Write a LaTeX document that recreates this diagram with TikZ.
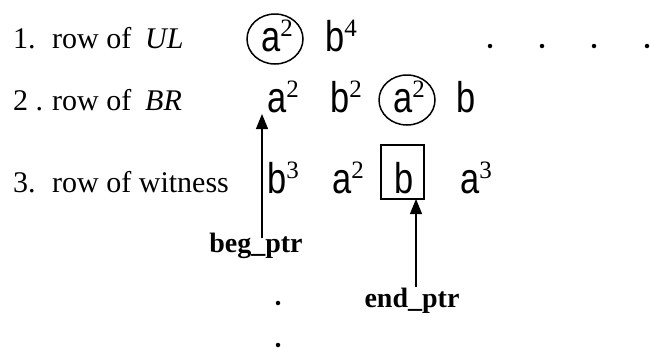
\documentclass[tikz,border=0pt]{standalone}
\usepackage{fontspec}
\setmainfont{Liberation Serif}
\newfontfamily\lettersf[FakeStretch=0.8]{Liberation Sans}
\usetikzlibrary{arrows.meta,shapes.geometric}
% exponent set in the serif face, raised above the letter
\newcommand\pow[1]{\raisebox{15pt}{\fontsize{25}{25}\selectfont\rmfamily #1}}
\begin{document}
\begin{tikzpicture}[x=1pt,y=-1pt,
  txt/.style={anchor=base west,inner sep=0pt,font=\fontsize{30}{30}\selectfont},
  sym/.style={anchor=base west,inner sep=0pt,font=\fontsize{43}{43}\selectfont\lettersf},
  ptrlabel/.style={anchor=base,inner sep=0pt,font=\fontsize{28}{28}\selectfont\bfseries},
  pointer/.style={-{Triangle[length=15pt,width=12pt]},line width=1.2pt},
  ring/.style={draw,ellipse,line width=1.5pt,minimum width=56pt,minimum height=50pt,inner sep=0pt},
  frame/.style={draw,line width=1.1pt,minimum width=43pt,minimum height=54pt,inner sep=0pt},
  dotmark/.style={circle,fill,inner sep=0pt,minimum size=4.5pt}]
\useasboundingbox (0,0) rectangle (652,354);

% row 1
\node[txt] (n1) at (13,48) {1.};
\node[txt] (r1) at (52,48) {row of};
\node[txt] (ul) at (145,48) {\itshape UL};
\node[sym] (a1) at (261,51) {a\pow{2}};
\node[ring] (c1) at (275,39) {};
\node[sym] (b1) at (325,51) {b\pow{4}};
\node[dotmark] (d1) at (490,46) {};
\node[dotmark] (d2) at (542,46) {};
\node[dotmark] (d3) at (594,46) {};
\node[dotmark] (d4) at (647,46) {};

% row 2
\node[txt] (n2) at (13,110) {2 .};
\node[txt] (r2) at (52,110) {row of};
\node[txt] (br) at (145,110) {\itshape BR};
\node[sym] (a2) at (267,112) {a\pow{2}};
\node[sym] (b2) at (330,112) {b\pow{2}};
\node[sym] (a3) at (393,112) {a\pow{2}};
\node[ring] (c2) at (407,100) {};
\node[sym] (b3) at (456,112) {b};

% row 3
\node[txt] (n3) at (13,192) {3.};
\node[txt] (r3) at (52,192) {row of witness};
\node[sym] (b4) at (267,193) {b\pow{3}};
\node[sym] (a4) at (332,193) {a\pow{2}};
\node[sym] (b5) at (394,193) {b};
\node[frame] (box) at (402.5,172) {};
\node[sym] (a5) at (460,193) {a\pow{3}};

% pointers
\node[ptrlabel] (beg) at (256,252) {beg\_ptr};
\node[ptrlabel] (end) at (412,307) {end\_ptr};
\coordinate (begtail) at (262,238);
\coordinate (begtip) at (262,114);
\coordinate (endtail) at (416,287);
\coordinate (endtip) at (416,199);
\draw[pointer] (begtail) -- (begtip);
\draw[pointer] (endtail) -- (endtip);

% trailing dots
\node[dotmark] (v1) at (278,303) {};
\node[dotmark] (v2) at (278,345) {};
\end{tikzpicture}
\end{document}
